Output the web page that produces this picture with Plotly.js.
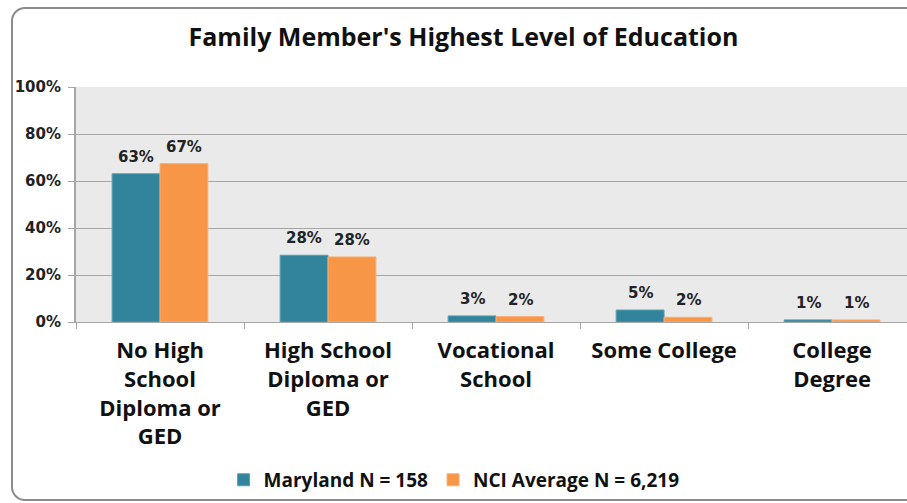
<!DOCTYPE html>
<html>
<head>
<meta charset="utf-8">
<script src="https://cdn.plot.ly/plotly-3.0.1.min.js"></script>
<style>
  html, body { margin: 0; padding: 0; background: #ffffff; overflow: hidden; }
  #frame { position: absolute; left: 11px; top: 7px; width: 920px; height: 494px;
           border: 2px solid #8c8c8c; border-radius: 14px; box-sizing: border-box; }
  #chart { position: absolute; left: 0; top: 0; width: 907px; height: 503px; }
</style>
</head>
<body>
<div id="frame"></div>
<div id="chart"></div>
<script>
const categories = [
  "No High<br>School<br>Diploma or<br>GED",
  "High School<br>Diploma or<br>GED",
  "Vocational<br>School",
  "Some College",
  "College<br>Degree"
];
const marylandValues = [63.1, 28.4, 2.6, 5.1, 0.9];
const nciValues = [67.4, 27.7, 2.3, 2.0, 0.9];
const seriesNames = ["Maryland N = 158", "NCI Average N = 6,219"];
const yTickValues = [0, 20, 40, 60, 80, 100];
const yTickLabels = ["0%", "20%", "40%", "60%", "80%", "100%"];

const labelFont = { family: "DejaVu Sans", size: 15, color: "#222222", weight: "bold" };

const traces = [
  {
    type: "bar", name: seriesNames[0], x: categories, y: marylandValues,
    marker: { color: "#31849b", line: { color: "#5a9fb2", width: 1 } },
    hoverinfo: "none"
  },
  {
    type: "bar", name: seriesNames[1], x: categories, y: nciValues,
    marker: { color: "#f79646", line: { color: "#f9b07a", width: 1 } },
    hoverinfo: "none"
  }
];

// value labels placed above each bar via the axes' own scales
const annotations = [];
[marylandValues, nciValues].forEach((vals, s) => {
  vals.forEach((v, i) => {
    annotations.push({
      x: categories[i], y: v, xref: "x", yref: "y",
      text: Math.round(v) + "%", showarrow: false,
      xshift: s === 0 ? -24 : 24, yshift: 6,
      yanchor: "bottom", font: labelFont
    });
  });
});

const layout = {
  width: 907, height: 503,
  margin: { l: 76, r: 0, t: 87, b: 181, pad: 0 },
  paper_bgcolor: "rgba(0,0,0,0)",
  plot_bgcolor: "#eaeaea",
  barmode: "group",
  bargap: 0.43,
  bargroupgap: 0,
  showlegend: true,
  annotations: annotations,
  title: {
    text: "<b>Family Member's Highest Level of Education</b>",
    font: { family: "Open Sans", size: 25, color: "#111111" },
    x: 0.511, xanchor: "center", y: 0.925, yanchor: "middle"
  },
  xaxis: {
    type: "category",
    range: [-0.5, 4.446],
    tickson: "boundaries",
    ticks: "outside", ticklen: 6, tickcolor: "#a6a6a6", tickwidth: 1,
    showline: true, linecolor: "#a6a6a6", linewidth: 1,
    showgrid: false,
    ticklabelstandoff: 9,
    tickfont: { family: "Open Sans", size: 22, color: "#111111", weight: "bold" },
    fixedrange: true
  },
  yaxis: {
    range: [0, 100],
    tickvals: yTickValues, ticktext: yTickLabels,
    ticks: "outside", ticklen: 6, tickcolor: "#a6a6a6",
    showline: true, linecolor: "#a6a6a6", linewidth: 2,
    showgrid: true, gridcolor: "#a6a6a6", gridwidth: 1,
    zeroline: false,
    ticklabelstandoff: 4,
    tickfont: { family: "DejaVu Sans", size: 15, color: "#222222", weight: "bold" },
    fixedrange: true
  },
  legend: {
    orientation: "h",
    x: 0.455, xanchor: "center",
    y: -0.672, yanchor: "middle",
    font: { family: "Open Sans", size: 19, color: "#111111", weight: "bold" },
    bgcolor: "rgba(0,0,0,0)",
    itemwidth: 30,
    traceorder: "normal"
  }
};

Plotly.newPlot("chart", traces, layout, { displayModeBar: false, staticPlot: true });
</script>
</body>
</html>
